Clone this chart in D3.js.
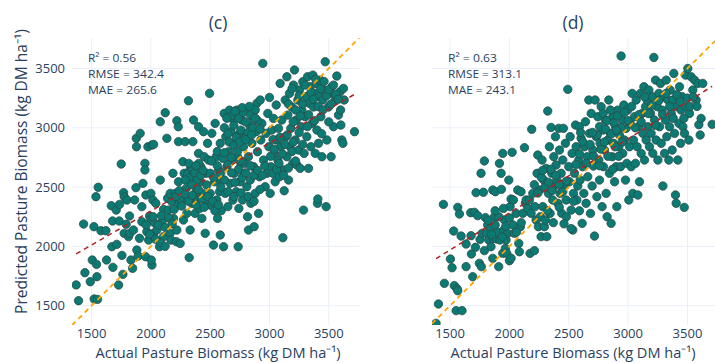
<!DOCTYPE html>
<html><head><meta charset="utf-8">
<script src="https://cdn.jsdelivr.net/npm/d3@7"></script>
<style>
body{margin:0;background:#fff}
text{font-family:"Open Sans",sans-serif;fill:#2a3f5f}
</style>
</head><body><svg id="chart" width="715" height="363"></svg>
<script>
// ---------------- data ----------------
const tickValues = [1500, 2000, 2500, 3000, 3500];
const panelTitles = ["(c)", "(d)"];
const xAxisTitle = "Actual Pasture Biomass (kg DM ha⁻¹)";
const yAxisTitle = "Predicted Pasture Biomass (kg DM ha⁻¹)";
const statsC = ["R² = 0.56", "RMSE = 342.4", "MAE = 265.6"];
const statsD = ["R² = 0.63", "RMSE = 313.1", "MAE = 243.1"];
// regression fit: [slope, intercept]
const fitC = [0.573, 1152];
const fitD = [0.625, 1032];
// [actual, predicted]
const pointsC = [[1370,1675],[1390,1542],[1433,2188],[1444,1778],[1489,1702],[1506,1885],[1520,2166],[1537,2419],[1556,2498],[1542,1848],[1522,1556],[1550,1553],[1545,1744],[1579,2132],[1621,2132],[1626,1885],[1671,1997],[1677,2214],[1666,2343],[1680,1823],[1713,2017],[1708,2306],[1728,1674],[1733,2214],[1736,2354],[1750,2694],[1756,1924],[1770,2453],[1775,2419],[1775,2110],[1764,1764],[1792,2186],[1798,2391],[1812,2082],[1820,2256],[1823,2110],[1832,1885],[1846,1815],[1854,2138],[1863,2391],[1877,2911],[1879,2840],[1874,2495],[1882,1969],[1893,1919],[1904,2068],[1910,2953],[1924,2208],[1924,2335],[1933,2531],[1950,2700],[1950,2644],[1955,1913],[1958,2433],[1966,2124],[1975,2840],[1981,2053],[1989,2256],[2000,2228],[2009,2854],[2000,2447],[2009,1843],[2003,1885],[2017,2391],[2023,2860],[2023,2110],[2028,2200],[2042,2363],[2051,2138],[2073,1997],[2079,2559],[2079,3051],[2093,2208],[2107,2082],[2107,2312],[2121,3127],[2135,2911],[2141,2405],[2149,2306],[2163,2447],[2163,2110],[2169,2053],[2177,2377],[2186,2616],[2191,2236],[2197,2312],[2205,2447],[2214,2040],[2219,2138],[2219,3059],[2231,3009],[2233,2545],[2233,2883],[2239,2363],[2247,2025],[2261,2391],[2270,2714],[2275,2222],[2281,2616],[2289,2883],[2298,2489],[2303,2278],[2312,2396],[2317,3228],[2323,1905],[2331,2138],[2331,2644],[2337,2545],[2345,2363],[2354,2883],[2360,3065],[2368,2672],[2373,2278],[2382,2461],[2388,2587],[2396,2391],[2402,3009],[2402,2784],[2410,2320],[2416,2545],[2421,2672],[2430,2236],[2438,2447],[2444,2967],[2450,2756],[2458,2110],[2464,2616],[2467,2363],[2472,2517],[2478,2869],[2486,2728],[2495,3290],[2500,2447],[2500,2616],[2506,2346],[2514,2953],[2528,2011],[2537,2545],[2542,3037],[2551,2756],[2556,2391],[2562,2236],[2570,2644],[2579,2461],[2585,2096],[2585,2869],[2593,2301],[2599,2559],[2607,2742],[2613,1997],[2618,3121],[2627,2447],[2632,2925],[2641,2672],[2649,2335],[2655,2798],[2663,3149],[2669,2531],[2675,2967],[2683,2728],[2692,2391],[2697,3065],[2703,2616],[2711,2869],[2720,2461],[2725,3149],[2731,2756],[2736,1997],[2742,2320],[2748,2953],[2753,2545],[2759,2700],[2767,3065],[2773,2391],[2781,2840],[2787,2616],[2795,3149],[2801,2925],[2809,2503],[2815,2250],[2823,2138],[2823,2756],[2832,3023],[2838,2559],[2843,2363],[2852,2869],[2860,3093],[2866,2672],[2871,2166],[2880,2447],[2888,2967],[2894,3206],[2899,2798],[2908,2278],[2916,2587],[2922,3234],[2927,2897],[2936,3037],[2944,3543],[2950,2728],[2964,2503],[2972,2953],[2978,2616],[2986,3121],[2995,2840],[3000,3256],[3006,2447],[3012,2672],[3020,2981],[3029,2616],[3034,3079],[3040,2784],[3048,2545],[3057,3192],[3062,2897],[3071,2728],[3076,2995],[3085,2587],[3090,3374],[3096,2840],[3104,3065],[3113,2073],[3118,2644],[3124,2469],[3133,3234],[3138,2925],[3147,3430],[3147,2756],[3155,3107],[3161,2559],[3169,3290],[3174,2840],[3180,2995],[3189,3175],[3197,2700],[3203,3360],[3211,3487],[3217,2897],[3225,3065],[3231,2686],[3239,3234],[3245,2812],[3253,3318],[3259,2658],[3267,3009],[3273,3149],[3281,3388],[3287,2306],[3292,2784],[3301,3093],[3309,3262],[3315,2925],[3321,3430],[3329,2658],[3337,3206],[3343,3346],[3349,2840],[3358,3037],[3366,3444],[3371,3175],[3377,3290],[3386,2784],[3394,3374],[3400,2981],[3405,2363],[3408,2399],[3414,2869],[3422,3262],[3428,3402],[3433,3093],[3442,2756],[3450,3234],[3456,3318],[3470,3557],[3478,2335],[3484,2897],[3498,3175],[3512,3290],[3520,2756],[3526,3346],[3540,3009],[3554,3234],[3568,3436],[3582,3107],[3596,3304],[3602,3023],[3610,2897],[3619,2869],[3624,3332],[3630,3234],[3717,2967],
[2310,2610],[2330,2580],[2350,2650],[2370,2620],[2390,2560],[2405,2700],[2420,2600],[2440,2640],[2290,2560],[2320,2700],[2345,2520],[2380,2680],
[2620,3000],[2650,2950],[2680,3100],[2700,3020],[2720,2920],[2740,3080],[2760,2980],[2780,3130],[2800,3050],[2820,2960],[2840,3110],[2860,3000],[2880,3150],[2900,3060],[2920,2990],[2640,3080],[2660,2880],[2700,2850],[2750,2880],[2800,2900],[2850,2940],[2710,3140],[2770,3170],[2830,3180],[2880,3080],
[2510,2720],[2530,2580],[2560,2680],[2590,2620],[2620,2560],[2650,2690],[2680,2620],[2710,2540],[2740,2650],[2770,2580],[2790,2700],[2560,2800],[2620,2790],[2680,2750],[2730,2800],[2760,2720],[2800,2620],[2840,2680],[2870,2600],[2900,2640],[2940,2600],[2960,2680],[2590,2500],[2650,2460],[2700,2420],[2760,2450],[2820,2420],[2870,2380],[2920,2480],
[3010,2760],[3040,2820],[3060,2650],[3090,2920],[3110,2780],[3130,2860],[3160,2660],[3190,2800],[3220,2720],[3250,2960],[3280,2860],[3080,2700],[3150,2940],[3200,2880],[3030,2900],[3120,2600],
[3160,3200],[3190,3330],[3220,3150],[3250,3270],[3280,3200],[3300,3360],[3330,3110],[3350,3300],[3370,3240],[3390,3410],[3410,3180],[3430,3330],[3450,3150],[3460,3390],[3480,3270],[3500,3320],[3520,3200],[3540,3360],[3560,3280],[3580,3240],[3600,3150],[3200,3050],[3260,3100],[3320,3010],[3380,3060],[3440,2950],[3500,3050],
[2210,2420],[2240,2470],[2260,2340],[2290,2440],[2320,2380],[2350,2430],[2380,2350],[2400,2480],[2430,2400],[2450,2330],[2480,2420],[2520,2380],[2540,2300],[2570,2350],
[1960,2180],[1990,2100],[2020,2250],[2060,2180],[2090,2260],[2120,2160],[2150,2240],[2180,2190],[2040,2060],[2080,2030],[2120,2000]];
const pointsD = [[1382,1351],[1402,1514],[1444,2354],[1452,1688],[1503,1893],[1517,1820],[1531,2129],[1536,1669],[1551,1458],[1559,1643],[1565,1626],[1601,1458],[1565,2329],[1579,2273],[1593,2087],[1635,2020],[1635,1829],[1674,2284],[1677,2090],[1680,1936],[1691,1744],[1705,2287],[1714,1992],[1719,2453],[1733,2259],[1747,1857],[1753,2059],[1761,2616],[1764,1829],[1770,2110],[1781,2456],[1789,2720],[1789,1964],[1798,2242],[1809,2110],[1817,2180],[1826,2054],[1840,2152],[1845,1997],[1860,2475],[1860,1899],[1865,2068],[1874,2250],[1882,2461],[1893,2062],[1902,2118],[1910,1829],[1916,2700],[1921,2054],[1930,2616],[1933,2481],[1944,2784],[1944,1941],[1952,2138],[1958,2222],[1966,1983],[1972,2054],[1978,1941],[1986,2110],[1995,2559],[2000,1879],[2006,2335],[2014,1900],[2014,2399],[2023,2793],[2034,2391],[2042,2110],[2056,2278],[2070,2475],[2079,2025],[2084,1955],[2093,2166],[2098,2461],[2113,2278],[2127,2832],[2135,2363],[2141,2391],[2155,2320],[2169,2391],[2174,1941],[2183,2278],[2188,2987],[2197,2447],[2211,1964],[2216,2335],[2225,2222],[2233,2616],[2239,2770],[2244,2166],[2253,2475],[2261,2250],[2267,2082],[2275,2728],[2281,2335],[2289,2559],[2295,2166],[2303,2222],[2309,2658],[2315,2082],[2323,3141],[2329,2447],[2337,2840],[2343,2278],[2351,3003],[2357,2616],[2365,2391],[2374,2756],[2379,2509],[2388,2925],[2393,2686],[2399,2559],[2408,2363],[2416,2995],[2422,2812],[2427,2447],[2436,2616],[2441,2278],[2450,2728],[2455,2995],[2464,2509],[2472,2869],[2478,2391],[2492,3324],[2500,2672],[2506,2545],[2512,2925],[2520,2306],[2528,2784],[2534,2138],[2540,2447],[2548,2616],[2557,3023],[2562,2840],[2568,2391],[2576,2509],[2585,2728],[2590,3009],[2596,2559],[2604,2911],[2613,2194],[2618,2672],[2627,2447],[2632,2840],[2641,3051],[2646,2363],[2655,2756],[2660,2587],[2669,3234],[2675,2953],[2683,2278],[2689,3121],[2697,2509],[2703,2812],[2708,2677],[2717,2087],[2722,3234],[2731,2925],[2737,2419],[2745,3093],[2753,2728],[2759,2559],[2764,2869],[2773,3178],[2781,2335],[2787,2981],[2792,2672],[2801,2812],[2809,3065],[2815,2447],[2823,2250],[2829,2897],[2837,3234],[2843,2616],[2849,2953],[2857,2194],[2866,2756],[2871,3093],[2877,2869],[2886,2545],[2894,3009],[2899,2672],[2905,2335],[2913,3149],[2922,2840],[2927,2939],[2936,2672],[2941,3605],[2950,3065],[2955,2784],[2964,3192],[2969,2897],[2978,2559],[2983,2995],[2989,2700],[2997,3149],[3006,2391],[3012,2840],[3017,3037],[3026,2672],[3034,3290],[3040,2447],[3045,2897],[3054,3093],[3062,2700],[3068,3234],[3076,2840],[3082,2433],[3090,3009],[3096,2545],[3104,3290],[3110,2784],[3118,3121],[3124,2953],[3133,3346],[3138,2728],[3147,3178],[3152,2897],[3161,3234],[3166,3009],[3175,3318],[3180,2840],[3189,3121],[3194,2953],[3203,3262],[3208,2784],[3217,3593],[3222,3065],[3231,3402],[3236,2897],[3245,3178],[3251,2728],[3259,3290],[3265,3009],[3273,3374],[3279,2869],[3287,3149],[3293,2509],[3298,3262],[3307,2784],[3315,3065],[3321,3402],[3326,2925],[3335,3234],[3343,2728],[3349,3009],[3354,3318],[3363,3121],[3371,2812],[3377,3234],[3385,3458],[3391,2953],[3399,2433],[3405,2363],[3411,3178],[3419,2728],[3428,3037],[3433,3346],[3442,2869],[3447,3149],[3456,3262],[3461,3009],[3473,2329],[3475,2953],[3484,3444],[3489,3178],[3503,3500],[3512,2897],[3517,3121],[3531,3430],[3545,3318],[3559,3402],[3573,3234],[3587,3374],[3596,3026],[3607,2939],[3615,3079],[3629,3374],[3708,3029],
[2210,2520],[2240,2450],[2270,2580],[2300,2500],[2330,2540],[2360,2470],[2390,2600],[2420,2520],[2450,2460],[2480,2550],[2350,2650],[2280,2640],
[2560,2690],[2590,2780],[2620,2880],[2650,2700],[2680,2860],[2710,2760],[2740,2940],[2770,2820],[2800,2880],[2830,2760],[2860,2950],[2890,2840],[2920,2760],[2950,2880],[2600,2960],[2700,2960],[2760,2680],[2870,2650],
[2760,3010],[2790,3120],[2820,3060],[2850,3150],[2880,3040],[2910,3100],[2940,3000],[2970,3130],[3000,3060],[3030,3180],[3060,3000],[3090,3110],[2810,2990],[2900,2980],
[3110,3050],[3140,3260],[3170,3120],[3200,3190],[3230,3020],[3260,3230],[3290,3110],[3320,3290],[3350,3180],[3380,3080],[3410,3280],[3440,3220],[3470,3080],[3500,3250],[3520,3180],[3550,3260],[3580,3180],
[1820,2220],[1850,2100],[1880,2180],[1910,2250],[1940,2080],[1970,2170],[2000,2240],[2030,2180],[2060,2120],[2100,2200],[1880,2300],[1950,2320],
[2320,2300],[2370,2200],[2420,2330],[2480,2250],[2540,2380],[2590,2300],[2460,2190],[2520,2150]];
// measured text widths of the stats lines (px)
const statsWidthsC = [48, 76, 69];
const statsWidthsD = [49, 74, 68];

// ---------------- layout ----------------
const svg = d3.select("#chart");
svg.append("rect").attr("width",715).attr("height",363).attr("fill","#fff");

const panels = [
  {id:"c", pts:pointsC, fit:fitC, stats:statsC, sw:statsWidthsC, title:panelTitles[0], xdom:[1335,3760], xr:[72,359.6], yLabels:true, tx:218},
  {id:"d", pts:pointsD, fit:fitD, stats:statsD, sw:statsWidthsD, title:panelTitles[1], xdom:[1348,3732], xr:[432,715], yLabels:false, tx:573}
];
const ydom = [1337, 3757], yr = [325, 38];

panels.forEach(p => {
  const x = d3.scaleLinear().domain(p.xdom).range(p.xr);
  const y = d3.scaleLinear().domain(ydom).range(yr);
  const g = svg.append("g");
  const clipId = "clip-" + p.id;
  svg.append("clipPath").attr("id", clipId).append("rect")
    .attr("x", p.xr[0]).attr("y", yr[1]).attr("width", p.xr[1]-p.xr[0]).attr("height", yr[0]-yr[1]);

  // grid
  g.selectAll(".vg").data(tickValues).join("line")
    .attr("x1", d=>x(d)).attr("x2", d=>x(d)).attr("y1", yr[1]).attr("y2", yr[0])
    .attr("stroke","#EBF0F8").attr("stroke-width",1);
  g.selectAll(".hg").data(tickValues).join("line")
    .attr("y1", d=>y(d)).attr("y2", d=>y(d)).attr("x1", p.xr[0]).attr("x2", p.xr[1])
    .attr("stroke","#EBF0F8").attr("stroke-width",1);

  // x tick labels
  g.selectAll(".xt").data(tickValues).join("text")
    .attr("x", d=>x(d)).attr("y", 338).attr("text-anchor","middle")
    .attr("font-size", 13).text(d=>d);
  if (p.yLabels) {
    g.selectAll(".yt").data(tickValues).join("text")
      .attr("x", 65).attr("y", d=>y(d)+4.5).attr("text-anchor","end")
      .attr("font-size", 13).text(d=>d);
  }

  const plot = g.append("g").attr("clip-path", `url(#${clipId})`);
  plot.selectAll("circle").data(p.pts).join("circle")
    .attr("cx", d=>x(d[0])).attr("cy", d=>y(d[1])).attr("r", 4.2)
    .attr("fill", "#0b7a73").attr("stroke", "#2a4d4a").attr("stroke-width", 0.8);

  // y = x line
  plot.append("line")
    .attr("x1", x(p.xdom[0])).attr("y1", y(p.xdom[0]))
    .attr("x2", x(p.xdom[1])).attr("y2", y(p.xdom[1]))
    .attr("stroke", "orange").attr("stroke-width", 1.8).attr("stroke-dasharray", "5,4");
  // fit line
  const xs = d3.extent(p.pts, d=>d[0]);
  plot.append("line")
    .attr("x1", x(xs[0])).attr("y1", y(p.fit[0]*xs[0]+p.fit[1]))
    .attr("x2", x(xs[1])).attr("y2", y(p.fit[0]*xs[1]+p.fit[1]))
    .attr("stroke", "#b22222").attr("stroke-width", 1.5).attr("stroke-dasharray", "5,4");

  // stats
  g.selectAll(".st").data(p.stats).join("text")
    .attr("x", p.xr[0]+16).attr("y", (d,i)=>61.5+i*16).attr("font-size", 11.6)
    .attr("textLength", (d,i)=>p.sw[i]).attr("lengthAdjust","spacingAndGlyphs").text(d=>d);

  // title
  g.append("text").attr("x", p.tx).attr("y", 28.5).attr("text-anchor","middle")
    .attr("font-size", 17.5).text(p.title);
  g.append("text").attr("x", p.tx).attr("y", 358).attr("text-anchor","middle")
    .attr("font-size", 15).attr("textLength", 245).attr("lengthAdjust","spacingAndGlyphs")
    .text(xAxisTitle);
});

svg.append("text").attr("transform","translate(27,171.5) rotate(-90)")
  .attr("text-anchor","middle").attr("font-size",15.5).text(yAxisTitle);
</script>
</body></html>
